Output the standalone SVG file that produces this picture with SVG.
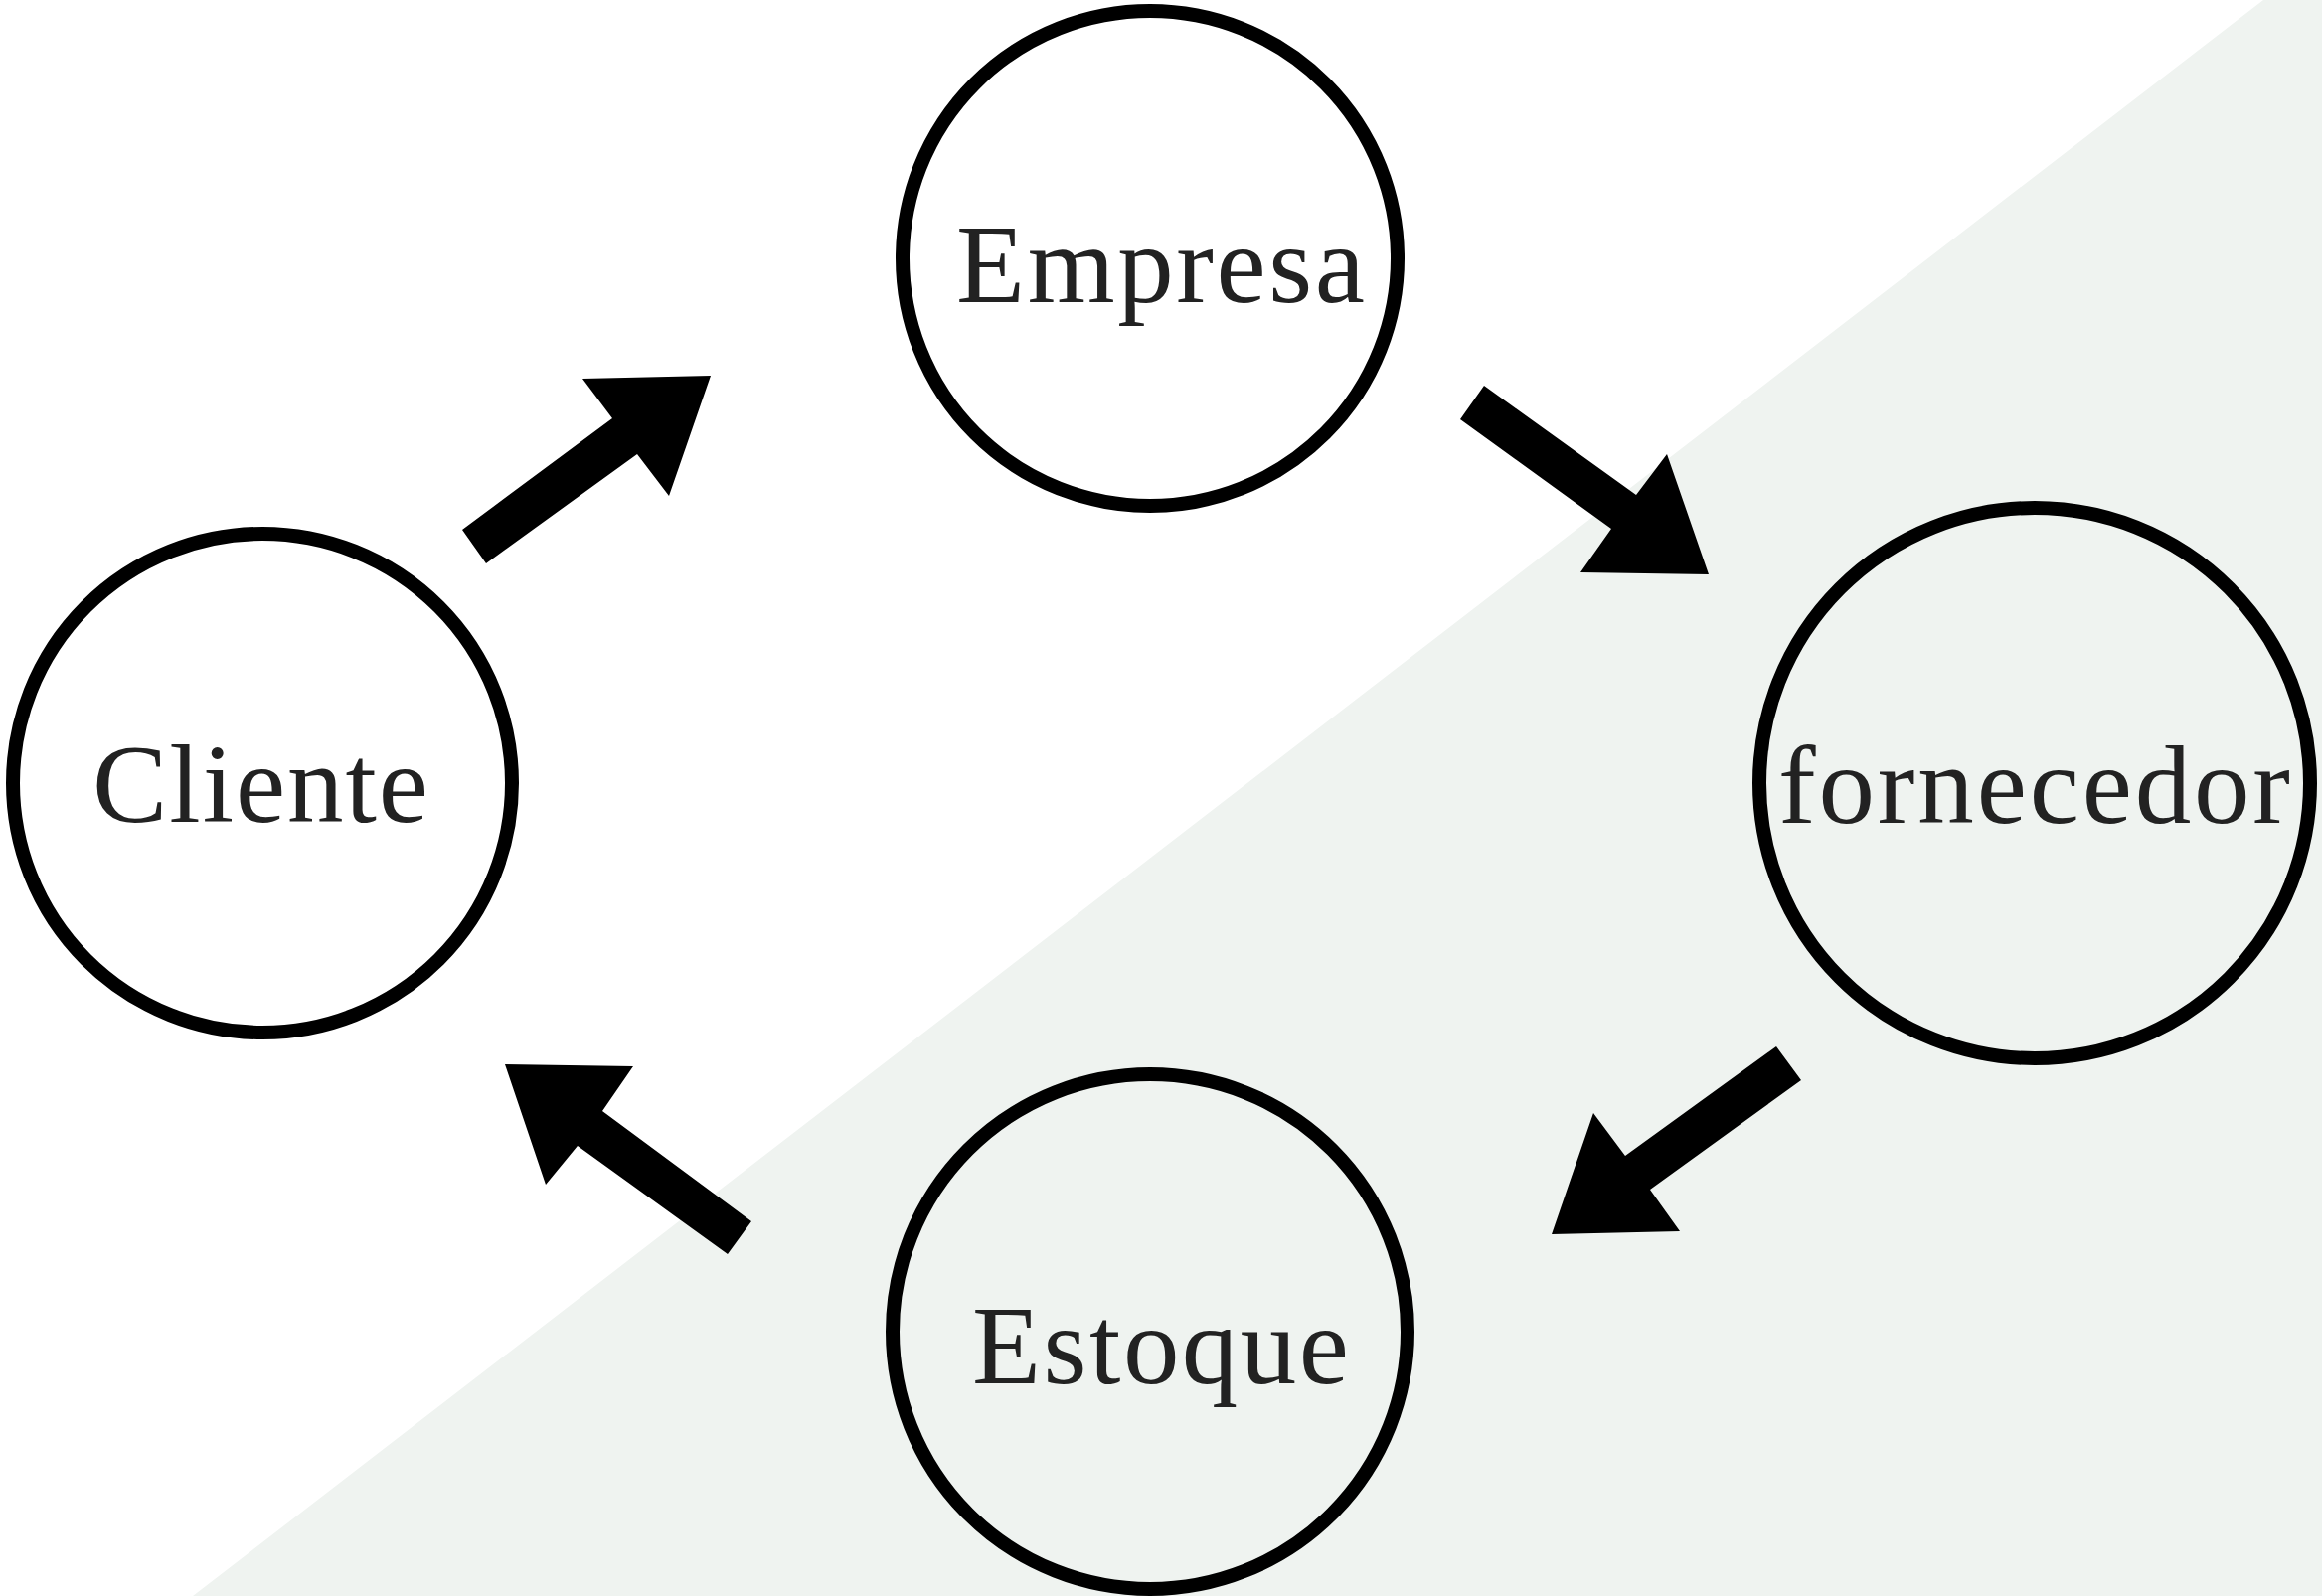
<svg xmlns="http://www.w3.org/2000/svg" width="2336" height="1606" viewBox="0 0 2336 1606">
<style>
.node{fill:none;stroke:#000;stroke-width:14}
.lbl{font-family:"Liberation Serif","Times New Roman",serif;font-size:113px;fill:#222222}
.arrow{fill:#000;stroke:none}
</style>
<rect x="0" y="0" width="2336" height="1606" fill="#ffffff"/>
<polygon points="2277,0 2336,0 2336,1606 194,1606" fill="#EFF3F0"/>
<g id="connectors">
<polygon class="arrow" points="465,533 616,421 586,381 715,378 673,499 641,457 489,567"/>
<polygon class="arrow" points="1493,388 1646,498 1677,457 1719,578 1590,576 1621,532 1469,422"/>
<polygon class="arrow" points="1787,1053 1635,1163 1603,1120 1561,1242 1690,1239 1660,1197 1812,1087"/>
<polygon class="arrow" points="756,1229 606,1118 637,1073 508,1071 549,1192 581,1153 732,1262"/>
</g>
<g id="empresa">
<circle class="node" cx="1157" cy="260" r="249"/>
<text class="lbl" x="962" y="304" font-size="115" textLength="411" lengthAdjust="spacing">Empresa</text>
</g>
<g id="cliente">
<circle class="node" cx="264" cy="788" r="251"/>
<text class="lbl" x="93" y="827" textLength="338" lengthAdjust="spacing">Cliente</text>
</g>
<g id="fornecedor">
<circle class="node" cx="2047" cy="788" r="277"/>
<text class="lbl" x="1789" y="828" textLength="515" lengthAdjust="spacing">fornecedor</text>
</g>
<g id="estoque">
<circle class="node" cx="1157" cy="1340" r="259"/>
<text class="lbl" x="978" y="1392" font-size="109" textLength="379" lengthAdjust="spacing">Estoque</text>
</g>
</svg>
